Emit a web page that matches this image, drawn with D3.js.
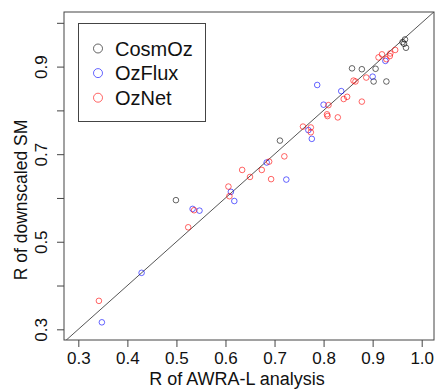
<!DOCTYPE html>
<html>
<head>
<meta charset="utf-8">
<script src="https://cdn.jsdelivr.net/npm/d3@7"></script>
<style>
  body { margin: 0; background: #fff; }
  text { font-family: "Liberation Sans", Arial, sans-serif; fill: #111; }
</style>
</head>
<body>
<svg width="436" height="392"></svg>
<script>
// [R of AWRA-L analysis, R of downscaled SM]
const cosmoz = [
  [0.858, 0.896], [0.878, 0.894], [0.906, 0.895], [0.902, 0.866], [0.928, 0.866],
  [0.961, 0.956], [0.966, 0.962], [0.964, 0.952], [0.968, 0.943],
  [0.711, 0.731], [0.499, 0.595]
];
const ozflux = [
  [0.787, 0.858], [0.836, 0.844], [0.900, 0.877], [0.926, 0.913], [0.800, 0.813],
  [0.769, 0.755], [0.776, 0.735], [0.684, 0.681], [0.724, 0.642], [0.611, 0.614],
  [0.618, 0.593], [0.533, 0.575], [0.547, 0.571], [0.429, 0.429], [0.348, 0.316]
];
const oznet = [
  [0.919, 0.928], [0.912, 0.921], [0.936, 0.930], [0.946, 0.938], [0.935, 0.924],
  [0.928, 0.917], [0.861, 0.868], [0.865, 0.866], [0.887, 0.875], [0.848, 0.831],
  [0.841, 0.826], [0.878, 0.820], [0.810, 0.812], [0.807, 0.791], [0.808, 0.787],
  [0.829, 0.784], [0.758, 0.763], [0.774, 0.761], [0.774, 0.750], [0.720, 0.695],
  [0.689, 0.683], [0.634, 0.664], [0.674, 0.664], [0.650, 0.648], [0.693, 0.643],
  [0.606, 0.626], [0.608, 0.604], [0.536, 0.572], [0.524, 0.533], [0.342, 0.365]
];
const seriesNames = ["CosmOz", "OzFlux", "OzNet"];
const seriesColors = ["rgba(0,0,0,0.6)", "rgba(0,0,255,0.6)", "rgba(255,0,0,0.6)"];
const xTicks = [0.3, 0.4, 0.5, 0.6, 0.7, 0.8, 0.9, 1.0];
const yTicks = [0.3, 0.4, 0.5, 0.6, 0.7, 0.8, 0.9, 1.0];
const yLabelled = [0.3, 0.5, 0.7, 0.9];

const plot = { left: 64, right: 434, top: 12, bottom: 340 };

const x = d3.scaleLinear().domain([0.2708, 1.0251]).range([plot.left, plot.right]);
const y = d3.scaleLinear().domain([0.2756, 1.0247]).range([plot.bottom, plot.top]);

const svg = d3.select("svg");

svg.append("defs").append("clipPath").attr("id", "plot-clip")
  .append("rect")
  .attr("x", plot.left).attr("y", plot.top)
  .attr("width", plot.right - plot.left).attr("height", plot.bottom - plot.top);

// x axis
const xAxis = svg.append("g")
  .attr("transform", `translate(0,${plot.bottom})`)
  .call(d3.axisBottom(x).tickValues(xTicks).tickSize(7).tickPadding(5)
    .tickFormat(d3.format(".1f")));
xAxis.select(".domain").remove();
xAxis.selectAll("line").attr("stroke", "#444");
xAxis.selectAll("text").attr("font-size", 17).attr("fill", "#111");

// y axis, labels rotated like R's default
const yAxis = svg.append("g")
  .attr("transform", `translate(${plot.left},0)`)
  .call(d3.axisLeft(y).tickValues(yTicks).tickSize(7)
    .tickFormat((d) => (yLabelled.some((v) => Math.abs(v - d) < 1e-9) ? d3.format(".1f")(d) : "")));
yAxis.select(".domain").remove();
yAxis.selectAll("line").attr("stroke", "#444");
yAxis.selectAll("text")
  .attr("font-size", 17)
  .attr("fill", "#111")
  .attr("x", null).attr("dy", null)
  .attr("text-anchor", "middle")
  .attr("transform", "translate(-17,0) rotate(-90)");

// 1:1 line
svg.append("line")
  .attr("clip-path", "url(#plot-clip)")
  .attr("x1", x(0.2)).attr("y1", y(0.2))
  .attr("x2", x(1.1)).attr("y2", y(1.1))
  .attr("stroke", "#555").attr("stroke-width", 1);

// points
const allSeries = [cosmoz, ozflux, oznet];
allSeries.forEach((pts, i) => {
  svg.append("g").attr("class", "series-" + seriesNames[i])
    .selectAll("circle")
    .data(pts)
    .enter()
    .append("circle")
    .attr("cx", (d) => x(d[0]))
    .attr("cy", (d) => y(d[1]))
    .attr("r", 2.8)
    .attr("fill", "none")
    .attr("stroke", seriesColors[i])
    .attr("stroke-width", 1);
});

// plot box
svg.append("rect")
  .attr("x", plot.left).attr("y", plot.top)
  .attr("width", plot.right - plot.left).attr("height", plot.bottom - plot.top)
  .attr("fill", "none").attr("stroke", "#444").attr("stroke-width", 1);

// legend
const legend = svg.append("g").attr("class", "legend");
legend.append("rect")
  .attr("x", 78.5).attr("y", 23.5).attr("width", 127).attr("height", 98)
  .attr("fill", "none").attr("stroke", "#444");
const items = legend.selectAll(".item")
  .data(seriesNames)
  .enter()
  .append("g")
  .attr("class", "item")
  .attr("transform", (d, i) => `translate(98,${48.5 + i * 24.6})`);
items.append("circle")
  .attr("r", 4.5)
  .attr("fill", "none")
  .attr("stroke", (d, i) => seriesColors[i]);
items.append("text")
  .attr("x", 17).attr("y", 7.3)
  .attr("font-size", 20)
  .text((d) => d);

// axis titles
svg.append("text")
  .attr("x", 237).attr("y", 385)
  .attr("text-anchor", "middle")
  .attr("font-size", 18)
  .text("R of AWRA-L analysis");

svg.append("text")
  .attr("transform", "translate(26.5,200) rotate(-90)")
  .attr("text-anchor", "middle")
  .attr("font-size", 17.5)
  .text("R of downscaled SM");
</script>
</body>
</html>
